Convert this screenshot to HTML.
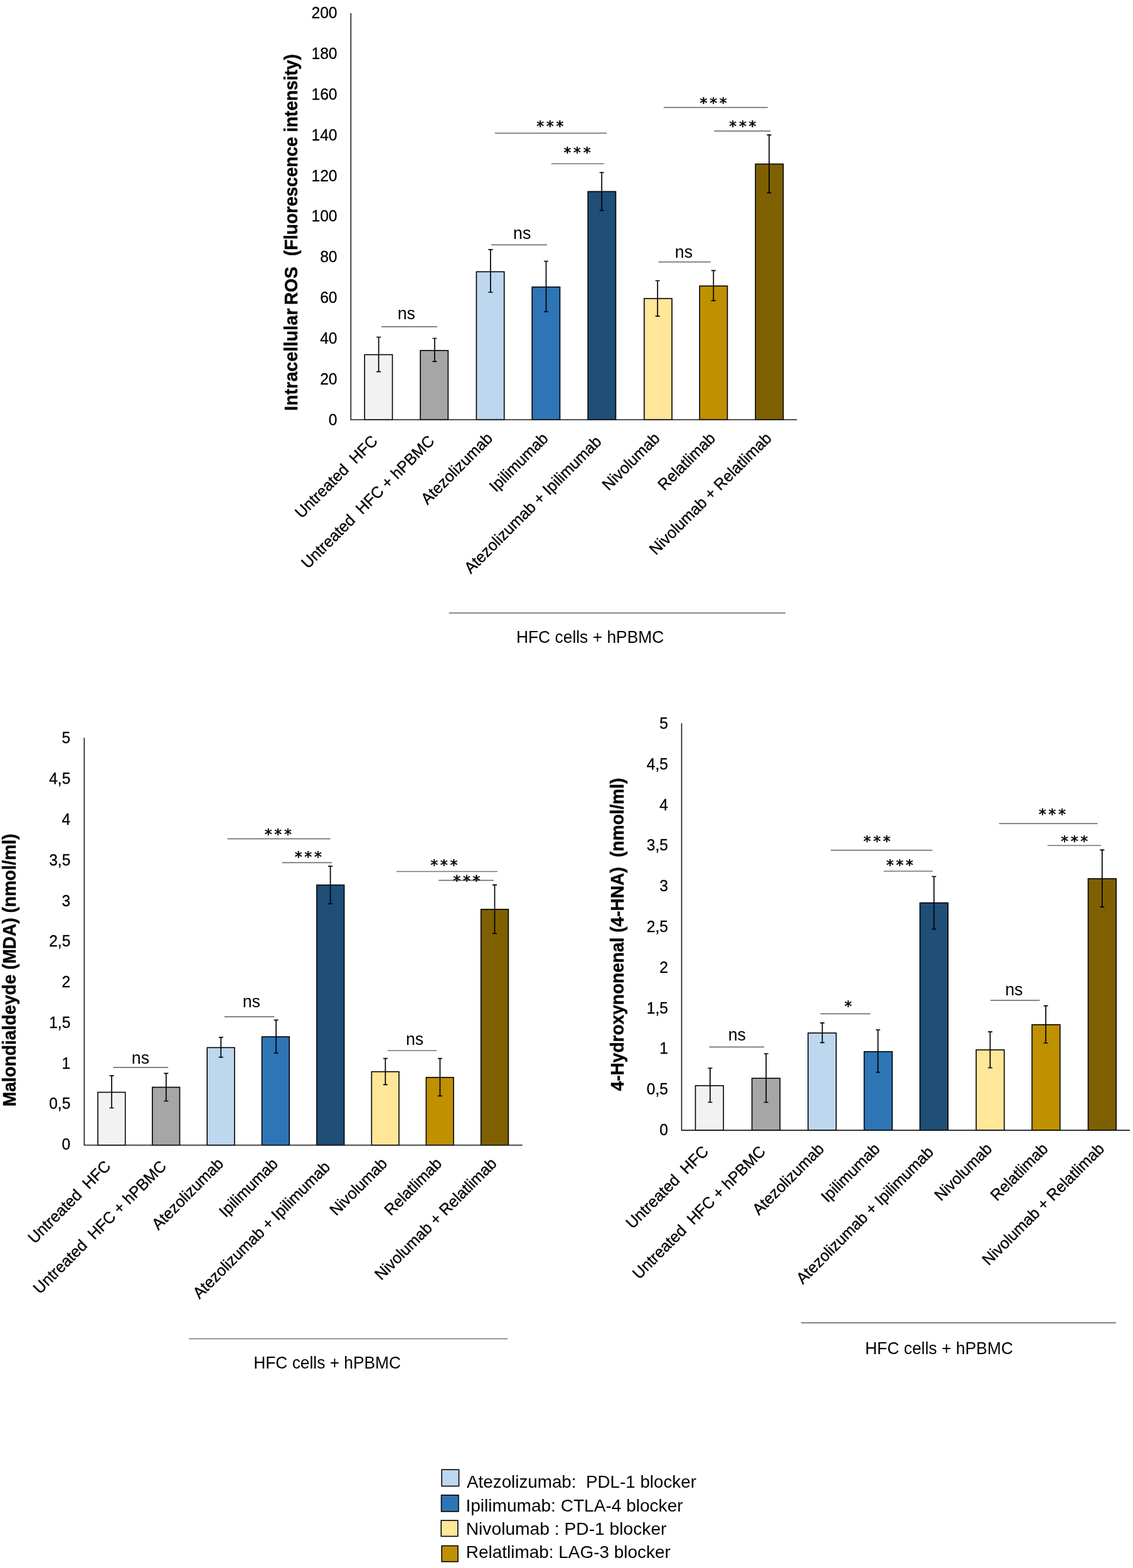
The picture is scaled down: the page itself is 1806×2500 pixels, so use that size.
<!DOCTYPE html>
<html lang="en">
<head>
<meta charset="utf-8">
<title>Figure</title>
<style>
html,body{margin:0;padding:0;background:#fff;}
body{width:1806px;height:2500px;overflow:hidden;}
svg{display:block;}
text{font-family:"Liberation Sans", Arial, sans-serif;fill:#000;white-space:pre;}
.bar{stroke:#000;stroke-width:1.6;}
.axis{fill:none;stroke:#1a1a1a;stroke-width:1.6;}
.err{fill:none;stroke:#000;stroke-width:1.7;}
.sig{fill:none;stroke:#737373;stroke-width:1.7;}
.tick text{font-size:24.6px;text-anchor:end;stroke:#000;stroke-width:0.3px;}
.xlab text{font-size:24.8px;text-anchor:end;stroke:#000;stroke-width:0.35px;}
.ns{font-size:27.7px;text-anchor:middle;}
.st{font-family:"DejaVu Sans", "Liberation Sans", sans-serif;font-size:23.8px;text-anchor:middle;stroke:#000;stroke-width:0.6;stroke-linejoin:round;}
.grp{font-size:27.5px;}
.yt{font-weight:bold;stroke:#000;stroke-width:0.4px;}
.lg{font-size:27.2px;}
.sw{stroke:#000;stroke-width:1.6;}
</style>
</head>
<body>
<svg width="1806" height="2500" viewBox="0 0 1806 2500">
<rect width="1806" height="2500" fill="#fff"/>
<g class="chart" id="ros">
<rect class="bar" x="581.2" y="565.5" width="44.3" height="103.8" fill="#F2F2F2"/>
<rect class="bar" x="670" y="558.8" width="44.3" height="110.5" fill="#A6A6A6"/>
<rect class="bar" x="759.4" y="433.3" width="44.3" height="236" fill="#BDD7EE"/>
<rect class="bar" x="848.2" y="457.6" width="44.3" height="211.7" fill="#2E75B6"/>
<rect class="bar" x="937.2" y="305.4" width="44.3" height="363.9" fill="#1F4E79"/>
<rect class="bar" x="1026.8" y="476" width="44.3" height="193.3" fill="#FFE699"/>
<rect class="bar" x="1115.2" y="456" width="44.3" height="213.3" fill="#BF9000"/>
<rect class="bar" x="1204.2" y="261.5" width="44.3" height="407.8" fill="#7F6000"/>
<path class="axis" d="M559.3 21V669.3H1270.5"/>
<path class="err" d="M603.6 537.5V592.7M600.1 537.5h7M600.1 592.7h7M692.8 539.5V576.4M689.3 539.5h7M689.3 576.4h7M781.9 397.9V466M778.4 397.9h7M778.4 466h7M870.5 416.5V497M867 416.5h7M867 497h7M959.2 275V335.7M955.7 275h7M955.7 335.7h7M1048.2 447.5V504.1M1044.7 447.5h7M1044.7 504.1h7M1137.3 431.3V479.4M1133.8 431.3h7M1133.8 479.4h7M1226 215.1V307.4M1222.5 215.1h7M1222.5 307.4h7"/>
<g class="tick">
<text transform="translate(537.5 677.76) scale(1 1.02)">0</text>
<text transform="translate(537.5 612.89) scale(1 1.02)">20</text>
<text transform="translate(537.5 548.03) scale(1 1.02)">40</text>
<text transform="translate(537.5 483.16) scale(1 1.02)">60</text>
<text transform="translate(537.5 418.3) scale(1 1.02)">80</text>
<text transform="translate(537.5 353.43) scale(1 1.02)">100</text>
<text transform="translate(537.5 288.57) scale(1 1.02)">120</text>
<text transform="translate(537.5 223.7) scale(1 1.02)">140</text>
<text transform="translate(537.5 158.84) scale(1 1.02)">160</text>
<text transform="translate(537.5 93.97) scale(1 1.02)">180</text>
<text transform="translate(537.5 29.11) scale(1 1.02)">200</text>
</g>
<g class="xlab">
<text transform="translate(603.35 704.8) rotate(-45) scale(1 1.03)">Untreated  HFC</text>
<text transform="translate(693.85 704.8) rotate(-45) scale(1 1.03)">Untreated  HFC + hPBMC</text>
<text transform="translate(786.65 700.6) rotate(-45) scale(1 1.03)">Atezolizumab</text>
<text transform="translate(875.15 700.8) rotate(-45) scale(1 1.03)">Ipilimumab</text>
<text transform="translate(960.35 705.8) rotate(-45) scale(1 1.03)">Atezolizumab + Ipilimumab</text>
<text transform="translate(1053.15 700.4) rotate(-45) scale(1 1.03)">Nivolumab</text>
<text transform="translate(1141.85 700.4) rotate(-45) scale(1 1.03)">Relatlimab</text>
<text transform="translate(1231.15 700.4) rotate(-45) scale(1 1.03)">Nivolumab + Relatlimab</text>
</g>
<path class="sig" d="M608 520.9H696.9M783.1 390.4H871.9M1049.6 417.6H1132.6M789 212.4H967.2M878.7 261H963M1057.9 171.4H1223.8M1138.4 208.8H1227.9"/>
<text class="ns" transform="translate(647.8 509) scale(0.966 1)">ns</text>
<text class="ns" transform="translate(832.2 380.8) scale(0.966 1)">ns</text>
<text class="ns" transform="translate(1089.9 410.7) scale(0.966 1)">ns</text>
<text class="st" x="861.2 876.8 892.4" y="208.64">***</text>
<text class="st" x="904.4 920 935.6" y="250.94">***</text>
<text class="st" x="1121.5 1137.1 1152.7" y="171.84">***</text>
<text class="st" x="1168.3 1183.9 1199.5" y="208.94">***</text>
<path class="sig" d="M715.8 977.3H1252"/>
<text class="grp" x="822.89" y="1025" textLength="235.54" lengthAdjust="spacingAndGlyphs">HFC cells + hPBMC</text>
<text class="yt" transform="translate(474.3 654.97) rotate(-90) scale(1 1.06)" font-size="28.2"><tspan letter-spacing="0.3">Intracellular</tspan><tspan dx="-2.8"> ROS</tspan><tspan dx="1.4" letter-spacing="-0.1">  (Fluorescence intensity)</tspan></text>
</g>
<g class="chart" id="mda">
<rect class="bar" x="156" y="1741.5" width="43.7" height="84.2" fill="#F2F2F2"/>
<rect class="bar" x="242.8" y="1733.5" width="43.7" height="92.2" fill="#A6A6A6"/>
<rect class="bar" x="330.2" y="1670.3" width="43.7" height="155.4" fill="#BDD7EE"/>
<rect class="bar" x="417.5" y="1653" width="43.7" height="172.7" fill="#2E75B6"/>
<rect class="bar" x="504.9" y="1411.1" width="43.7" height="414.6" fill="#1F4E79"/>
<rect class="bar" x="592.3" y="1708.7" width="43.7" height="117" fill="#FFE699"/>
<rect class="bar" x="679.3" y="1717.8" width="43.7" height="107.9" fill="#BF9000"/>
<rect class="bar" x="766.7" y="1449.8" width="43.7" height="375.9" fill="#7F6000"/>
<path class="axis" d="M134.3 1176.3V1825.7H832.7"/>
<path class="err" d="M178 1715.1V1766.5M174.5 1715.1h7M174.5 1766.5h7M264.8 1711.3V1755.5M261.3 1711.3h7M261.3 1755.5h7M352.2 1653.8V1685.7M348.7 1653.8h7M348.7 1685.7h7M440.1 1626.4V1679M436.6 1626.4h7M436.6 1679h7M526.6 1381.2V1440.8M523.1 1381.2h7M523.1 1440.8h7M614.3 1687.6V1729.4M610.8 1687.6h7M610.8 1729.4h7M701.4 1687.6V1747.3M697.9 1687.6h7M697.9 1747.3h7M788.5 1410.9V1488.4M785 1410.9h7M785 1488.4h7"/>
<g class="tick">
<text transform="translate(112.3 1833.26) scale(1 1.02)">0</text>
<text transform="translate(112.3 1768.47) scale(1 1.02)">0,5</text>
<text transform="translate(112.3 1703.68) scale(1 1.02)">1</text>
<text transform="translate(112.3 1638.89) scale(1 1.02)">1,5</text>
<text transform="translate(112.3 1574.1) scale(1 1.02)">2</text>
<text transform="translate(112.3 1509.31) scale(1 1.02)">2,5</text>
<text transform="translate(112.3 1444.52) scale(1 1.02)">3</text>
<text transform="translate(112.3 1379.73) scale(1 1.02)">3,5</text>
<text transform="translate(112.3 1314.94) scale(1 1.02)">4</text>
<text transform="translate(112.3 1250.15) scale(1 1.02)">4,5</text>
<text transform="translate(112.3 1185.36) scale(1 1.02)">5</text>
</g>
<g class="xlab">
<text transform="translate(177.85 1861.2) rotate(-45) scale(1 1.03)">Untreated  HFC</text>
<text transform="translate(266.59 1861.2) rotate(-45) scale(1 1.03)">Untreated  HFC + hPBMC</text>
<text transform="translate(357.64 1857) rotate(-45) scale(1 1.03)">Atezolizumab</text>
<text transform="translate(444.38 1857.2) rotate(-45) scale(1 1.03)">Ipilimumab</text>
<text transform="translate(527.82 1862.2) rotate(-45) scale(1 1.03)">Atezolizumab + Ipilimumab</text>
<text transform="translate(618.86 1856.8) rotate(-45) scale(1 1.03)">Nivolumab</text>
<text transform="translate(705.81 1856.8) rotate(-45) scale(1 1.03)">Relatlimab</text>
<text transform="translate(793.35 1856.8) rotate(-45) scale(1 1.03)">Nivolumab + Relatlimab</text>
</g>
<path class="sig" d="M180.5 1701.9H268.1M357.7 1621.2H437.4M617.9 1675H696.2M362.6 1337.3H526.6M449.7 1375.4H529.1M632.1 1389.5H792.9M698.9 1403.7H786.8"/>
<text class="ns" transform="translate(223.9 1695.9) scale(0.966 1)">ns</text>
<text class="ns" transform="translate(400.8 1606.1) scale(0.966 1)">ns</text>
<text class="ns" transform="translate(661.1 1666) scale(0.966 1)">ns</text>
<text class="st" x="427.7 443.3 458.9" y="1337.94">***</text>
<text class="st" x="475.7 491.3 506.9" y="1374.24">***</text>
<text class="st" x="692.2 707.8 723.4" y="1386.64">***</text>
<text class="st" x="728.3 743.9 759.5" y="1412.14">***</text>
<path class="sig" d="M301.1 2134.5H809"/>
<text class="grp" x="404.29" y="2181.9" textLength="234.73" lengthAdjust="spacingAndGlyphs">HFC cells + hPBMC</text>
<text class="yt" transform="translate(25.05 1764.16) rotate(-90) scale(1 1.06)" font-size="28.06">Malondialdeyde (MDA) (nmol/ml)</text>
</g>
<g class="chart" id="hna">
<rect class="bar" x="1108.5" y="1731" width="44.7" height="71.1" fill="#F2F2F2"/>
<rect class="bar" x="1198.6" y="1719.2" width="44.7" height="82.9" fill="#A6A6A6"/>
<rect class="bar" x="1288.1" y="1647" width="44.7" height="155.1" fill="#BDD7EE"/>
<rect class="bar" x="1377.5" y="1676.7" width="44.7" height="125.4" fill="#2E75B6"/>
<rect class="bar" x="1466.4" y="1439.5" width="44.7" height="362.6" fill="#1F4E79"/>
<rect class="bar" x="1556" y="1673.9" width="44.7" height="128.2" fill="#FFE699"/>
<rect class="bar" x="1645" y="1633.8" width="44.7" height="168.3" fill="#BF9000"/>
<rect class="bar" x="1734.5" y="1401" width="44.7" height="401.1" fill="#7F6000"/>
<path class="axis" d="M1086.5 1153.2V1802.1H1801"/>
<path class="err" d="M1131.9 1703V1757.5M1128.4 1703h7M1128.4 1757.5h7M1221.2 1680V1757.5M1217.7 1680h7M1217.7 1757.5h7M1310.7 1630.8V1662.4M1307.2 1630.8h7M1307.2 1662.4h7M1399.5 1642V1709.7M1396 1642h7M1396 1709.7h7M1488.7 1397.5V1481.4M1485.2 1397.5h7M1485.2 1481.4h7M1578.3 1645.1V1702.5M1574.8 1645.1h7M1574.8 1702.5h7M1667 1603.6V1663M1663.5 1603.6h7M1663.5 1663h7M1756.8 1355.2V1446.1M1753.3 1355.2h7M1753.3 1446.1h7"/>
<g class="tick">
<text transform="translate(1065 1809.96) scale(1 1.02)">0</text>
<text transform="translate(1065 1745.15) scale(1 1.02)">0,5</text>
<text transform="translate(1065 1680.35) scale(1 1.02)">1</text>
<text transform="translate(1065 1615.55) scale(1 1.02)">1,5</text>
<text transform="translate(1065 1550.74) scale(1 1.02)">2</text>
<text transform="translate(1065 1485.93) scale(1 1.02)">2,5</text>
<text transform="translate(1065 1421.13) scale(1 1.02)">3</text>
<text transform="translate(1065 1356.33) scale(1 1.02)">3,5</text>
<text transform="translate(1065 1291.52) scale(1 1.02)">4</text>
<text transform="translate(1065 1226.72) scale(1 1.02)">4,5</text>
<text transform="translate(1065 1161.91) scale(1 1.02)">5</text>
</g>
<g class="xlab">
<text transform="translate(1130.85 1837.6) rotate(-45) scale(1 1.03)">Untreated  HFC</text>
<text transform="translate(1221.78 1837.6) rotate(-45) scale(1 1.03)">Untreated  HFC + hPBMC</text>
<text transform="translate(1315.01 1833.4) rotate(-45) scale(1 1.03)">Atezolizumab</text>
<text transform="translate(1403.94 1833.6) rotate(-45) scale(1 1.03)">Ipilimumab</text>
<text transform="translate(1489.56 1838.6) rotate(-45) scale(1 1.03)">Atezolizumab + Ipilimumab</text>
<text transform="translate(1582.79 1833.2) rotate(-45) scale(1 1.03)">Nivolumab</text>
<text transform="translate(1671.92 1833.2) rotate(-45) scale(1 1.03)">Relatlimab</text>
<text transform="translate(1761.65 1833.2) rotate(-45) scale(1 1.03)">Nivolumab + Relatlimab</text>
</g>
<path class="sig" d="M1130.5 1669.3H1218.1M1307.7 1616.3H1387.4M1578.8 1594.8H1657.4M1324.2 1355.7H1486.2M1408.7 1389H1486.8M1592.5 1313.1H1749.4M1669.7 1348H1755.2"/>
<text class="ns" transform="translate(1174.8 1658.9) scale(0.966 1)">ns</text>
<text class="st" x="1352" y="1612.04">*</text>
<text class="ns" transform="translate(1616.3 1587.4) scale(0.966 1)">ns</text>
<text class="st" x="1382.3 1397.9 1413.5" y="1348.64">***</text>
<text class="st" x="1418.6 1434.2 1449.8" y="1386.64">***</text>
<text class="st" x="1661.7 1677.3 1692.9" y="1305.64">***</text>
<text class="st" x="1697 1712.6 1728.2" y="1348.64">***</text>
<path class="sig" d="M1276.9 2109.1H1779"/>
<text class="grp" x="1378.98" y="2158.7" textLength="235.85" lengthAdjust="spacingAndGlyphs">HFC cells + hPBMC</text>
<text class="yt" transform="translate(994 1739.46) rotate(-90) scale(1 1.06)" font-size="28.08">4-Hydroxynonenal (4-HNA)  (nmol/ml)</text>
</g>
<g id="legend">
<rect class="sw" x="704.1" y="2343.2" width="27.4" height="26.3" fill="#BDD7EE"/>
<text class="lg" x="744.1" y="2371.6" textLength="365.83" lengthAdjust="spacingAndGlyphs">Atezolizumab:  PDL-1 blocker</text>
<rect class="sw" x="703.5" y="2383.8" width="27.4" height="26.1" fill="#2E75B6"/>
<text class="lg" x="742.48" y="2409.6" textLength="346.13" lengthAdjust="spacingAndGlyphs">Ipilimumab: CTLA-4 blocker</text>
<rect class="sw" x="703.2" y="2424.2" width="26.6" height="25.3" fill="#FFE699"/>
<text class="lg" x="742.74" y="2446.9" textLength="319.76" lengthAdjust="spacingAndGlyphs">Nivolumab : PD-1 blocker</text>
<rect class="sw" x="704.1" y="2464.6" width="25.9" height="25.3" fill="#BF9000"/>
<text class="lg" x="742.76" y="2483.6" textLength="326.12" lengthAdjust="spacingAndGlyphs">Relatlimab: LAG-3 blocker</text>
</g>
</svg>
</body>
</html>
